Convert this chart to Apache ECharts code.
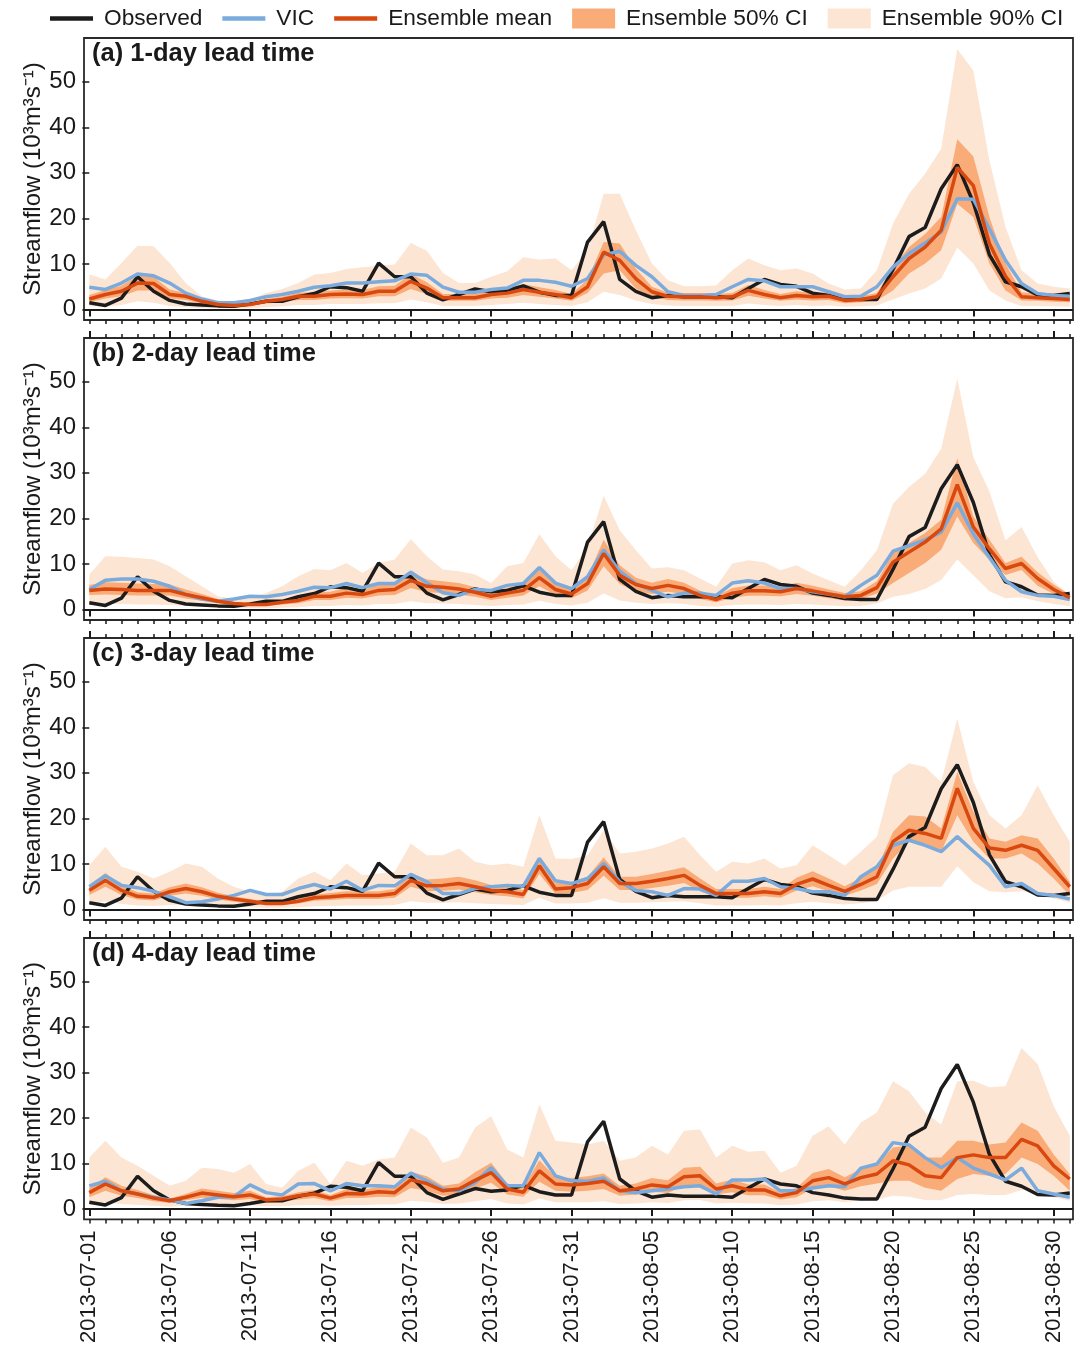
<!DOCTYPE html>
<html>
<head>
<meta charset="utf-8">
<title>Streamflow forecasts</title>
<script src="https://cdn.jsdelivr.net/npm/echarts@6/dist/echarts.min.js"></script>
<style>
    html, body { margin: 0; padding: 0; background: #fff; }
    #main { width: 1088px; height: 1346px; }
</style>
</head>
<body>
<div id="main"></div>
<script>
// tick labels on the x axis (one every 5 days, day index 0 = 2013-07-01)
var tickDays = [0, 5, 10, 15, 20, 25, 30, 35, 40, 45, 50, 55, 60];
var tickLabels = ['2013-07-01', '2013-07-06', '2013-07-11', '2013-07-16', '2013-07-21', '2013-07-26',
    '2013-07-31', '2013-08-05', '2013-08-10', '2013-08-15', '2013-08-20', '2013-08-25', '2013-08-30'];
var yTicks = [0, 10, 20, 30, 40, 50];

// observed streamflow, 2013-07-01 .. 2013-08-31 (10^3 m3/s)
var observed = [1.5, 0.9, 2.5, 7.2, 4.0, 2.0, 1.2, 1.0, 0.8, 0.7,
    1.2, 1.8, 1.8, 2.8, 3.5, 5.0, 4.8, 4.0, 10.2, 7.2,
    7.2, 3.6, 2.1, 3.3, 4.5, 3.9, 4.2, 5.2, 3.8, 3.1,
    3.1, 14.8, 19.3, 6.6, 4.0, 2.6, 3.1, 2.8, 2.8, 2.8,
    2.6, 4.6, 6.6, 5.5, 5.1, 3.6, 3.1, 2.4, 2.2, 2.2,
    8.8, 16.0, 18.0, 26.5, 31.8, 23.5, 12.0, 6.1, 5.0, 3.2, 3.1, 3.5];

// (a) 1-day lead time
var vicA = [4.9, 4.4, 5.8, 7.8, 7.4, 5.8, 3.6, 2.3, 1.5, 1.5,
    2.0, 2.8, 3.3, 4.0, 4.9, 5.2, 5.8, 5.8, 6.1, 6.3,
    7.8, 7.5, 4.9, 3.8, 3.8, 4.4, 4.7, 6.4, 6.4, 6.0,
    5.1, 6.8, 12.0, 12.8, 9.7, 7.2, 3.9, 3.1, 3.1, 3.3,
    5.0, 6.6, 6.3, 5.0, 5.0, 5.0, 3.9, 2.8, 2.9, 5.0,
    9.3, 12.3, 14.6, 17.0, 24.3, 24.2, 17.7, 10.8, 5.7, 3.5, 3.1, 2.9];
var meanA = [2.3, 3.3, 4.0, 5.8, 5.7, 3.3, 2.9, 1.8, 1.1, 0.9,
    1.1, 1.8, 2.2, 2.9, 2.9, 3.3, 3.4, 3.3, 4.0, 4.0,
    6.2, 4.7, 2.6, 2.6, 2.6, 3.3, 3.6, 4.4, 3.8, 3.3,
    2.6, 5.0, 12.6, 10.8, 6.8, 3.9, 2.9, 2.8, 2.8, 2.6,
    2.8, 4.2, 3.3, 2.6, 3.1, 2.8, 2.9, 2.0, 2.2, 2.8,
    7.2, 11.2, 13.7, 17.4, 31.2, 27.2, 14.5, 7.3, 2.8, 2.6, 2.4, 2.2];
var lo50A = [1.6, 2.4, 2.9, 4.2, 4.2, 2.4, 2.1, 1.3, 0.8, 0.6,
    0.8, 1.3, 1.6, 2.1, 2.1, 2.4, 2.5, 2.4, 2.9, 2.9,
    4.5, 3.4, 1.9, 1.9, 1.9, 2.4, 2.6, 3.2, 2.8, 2.4,
    1.9, 3.6, 7.9, 8.6, 4.6, 2.8, 2.1, 2.0, 2.0, 1.9,
    2.0, 3.0, 2.4, 1.9, 2.2, 2.0, 2.1, 1.4, 1.6, 2.0,
    4.2, 7.9, 10.1, 13.0, 23.2, 20.3, 10.1, 4.2, 2.0, 1.9, 1.7, 1.6];
var hi50A = [3.2, 4.3, 5.2, 7.4, 7.2, 4.4, 3.6, 2.3, 1.4, 1.2,
    1.4, 2.3, 2.8, 3.7, 3.8, 4.2, 4.4, 4.3, 5.1, 5.2,
    7.8, 6.0, 3.4, 3.4, 3.4, 4.2, 4.6, 5.6, 4.9, 4.3,
    3.4, 6.6, 14.8, 14.5, 9.0, 5.0, 3.7, 3.6, 3.6, 3.4,
    3.6, 5.4, 4.3, 3.4, 4.0, 3.6, 3.8, 2.6, 2.9, 3.6,
    9.3, 13.7, 16.6, 20.3, 37.4, 33.6, 20.3, 10.1, 3.8, 3.4, 3.1, 2.9];
var lo90A = [0.8, 0.6, 1.0, 1.8, 1.5, 0.8, 0.5, 0.3, 0.2, 0.2,
    0.3, 0.5, 0.7, 1.0, 1.0, 1.2, 1.2, 1.2, 1.4, 1.4,
    2.2, 1.6, 0.8, 0.8, 0.8, 1.0, 1.2, 1.5, 1.2, 1.0,
    0.8, 1.6, 3.9, 3.2, 2.0, 1.2, 0.9, 0.8, 0.8, 0.8,
    0.8, 1.3, 1.0, 0.8, 1.0, 0.8, 0.9, 0.6, 0.7, 0.9,
    2.2, 3.5, 4.6, 6.8, 13.6, 10.1, 4.2, 2.0, 0.8, 0.8, 0.7, 0.6];
var hi90A = [7.7, 6.6, 10.2, 14.0, 13.9, 10.2, 5.8, 2.9, 2.0, 1.8,
    2.2, 3.6, 4.5, 5.8, 7.7, 8.0, 8.9, 9.3, 9.6, 9.9,
    14.6, 12.9, 8.0, 5.8, 5.8, 7.2, 8.4, 11.5, 11.0, 11.2,
    8.6, 13.0, 25.4, 25.4, 17.4, 10.1, 6.4, 5.1, 5.1, 5.3,
    8.6, 11.2, 9.7, 8.6, 9.0, 7.9, 5.7, 4.4, 4.6, 8.6,
    18.8, 25.4, 29.8, 35.3, 57.2, 52.4, 32.7, 18.1, 8.6, 5.7, 5.0, 4.6];

// (b) 2-day lead time
var vicB = [4.4, 6.4, 6.7, 6.7, 6.2, 5.1, 3.3, 2.3, 1.8, 2.3,
    2.9, 2.8, 3.3, 4.0, 4.9, 4.8, 5.7, 4.8, 5.7, 5.7,
    8.2, 5.9, 3.7, 3.1, 4.4, 4.2, 5.3, 5.7, 9.2, 5.8,
    4.6, 7.2, 13.1, 8.4, 5.7, 4.2, 2.8, 3.6, 3.6, 3.1,
    5.8, 6.3, 5.8, 4.6, 4.6, 3.9, 3.4, 2.8, 5.3, 7.5,
    12.8, 14.0, 15.3, 17.0, 23.4, 16.6, 11.4, 6.4, 3.9, 3.1, 2.9, 2.2];
var meanB = [4.2, 4.5, 4.4, 4.2, 4.2, 4.2, 3.3, 2.6, 1.8, 1.3,
    1.1, 1.1, 1.6, 2.0, 2.9, 2.9, 3.6, 3.3, 4.2, 4.4,
    6.4, 5.1, 4.9, 4.5, 3.8, 2.9, 3.6, 4.2, 7.0, 4.4,
    3.4, 5.7, 12.3, 7.5, 5.5, 4.6, 5.3, 4.6, 3.1, 2.2,
    3.6, 4.1, 4.1, 3.9, 4.6, 4.1, 3.4, 2.8, 3.1, 4.8,
    10.4, 12.6, 14.8, 17.7, 27.4, 18.1, 13.3, 9.0, 10.1, 6.8, 4.4, 2.6];
var lo50B = [3.2, 3.3, 3.2, 3.1, 3.1, 3.1, 2.4, 1.9, 1.3, 0.9,
    0.8, 0.8, 1.1, 1.4, 2.1, 2.1, 2.6, 2.4, 3.1, 3.2,
    4.7, 3.8, 3.6, 3.3, 2.8, 2.1, 2.6, 3.1, 5.1, 3.2,
    2.5, 4.2, 9.5, 5.6, 4.0, 3.4, 3.9, 3.4, 2.3, 1.6,
    2.6, 3.0, 3.0, 2.9, 3.4, 3.0, 2.5, 2.0, 2.3, 3.5,
    5.8, 8.0, 10.2, 13.1, 20.4, 14.6, 10.9, 7.6, 8.7, 5.2, 3.4, 2.0];
var hi50B = [5.4, 6.0, 5.9, 5.7, 5.6, 5.5, 4.4, 3.4, 2.3, 1.7,
    1.4, 1.5, 2.1, 2.7, 3.8, 3.9, 4.8, 4.3, 5.5, 5.8,
    8.2, 6.6, 6.2, 5.8, 4.9, 3.8, 4.8, 5.5, 9.0, 5.8,
    4.4, 7.3, 15.3, 9.7, 7.0, 5.9, 6.7, 5.9, 4.1, 2.9,
    4.7, 5.3, 5.3, 5.0, 5.9, 5.2, 4.4, 3.6, 4.0, 6.2,
    12.4, 14.6, 16.8, 19.7, 33.2, 20.4, 15.3, 10.2, 11.6, 8.2, 5.5, 3.3];
var lo90B = [1.0, 1.2, 1.2, 1.1, 1.1, 1.0, 0.8, 0.6, 0.4, 0.3,
    0.3, 0.3, 0.4, 0.5, 0.8, 0.8, 1.0, 0.9, 1.2, 1.2,
    1.8, 1.4, 1.3, 1.2, 1.0, 0.8, 1.0, 1.1, 1.9, 1.2,
    0.9, 1.5, 3.5, 2.0, 1.5, 1.2, 1.4, 1.2, 0.8, 0.6,
    1.0, 1.1, 1.1, 1.0, 1.2, 1.1, 0.9, 0.7, 0.8, 1.3,
    2.8, 3.4, 4.5, 6.5, 11.0, 7.5, 4.0, 2.5, 2.7, 1.8, 1.2, 0.7];
var hi90B = [7.7, 11.7, 11.6, 11.3, 11.0, 9.5, 7.3, 5.1, 2.9, 2.3,
    2.6, 3.6, 5.1, 7.3, 8.9, 8.6, 10.2, 8.0, 10.2, 11.0,
    15.4, 11.7, 8.8, 8.4, 7.7, 5.8, 9.5, 10.2, 16.5, 11.7,
    8.6, 13.7, 25.0, 17.4, 13.0, 9.0, 9.3, 8.6, 6.8, 5.0,
    10.1, 10.8, 10.4, 8.6, 9.7, 7.9, 6.4, 5.0, 8.6, 13.0,
    23.2, 26.9, 29.8, 35.3, 50.7, 33.4, 25.9, 15.2, 18.1, 11.5, 6.1, 3.1];

// (c) 3-day lead time
var vicC = [5.0, 7.4, 5.3, 4.8, 4.0, 2.8, 1.5, 1.7, 2.3, 3.1,
    4.2, 3.3, 3.3, 4.6, 5.5, 4.5, 6.2, 4.2, 5.3, 5.2,
    7.7, 6.1, 3.5, 3.5, 4.6, 5.0, 5.3, 5.1, 11.2, 6.3,
    5.7, 6.8, 10.1, 6.1, 4.2, 3.9, 3.1, 4.6, 4.5, 3.1,
    6.2, 6.2, 6.8, 5.0, 4.6, 3.9, 3.9, 3.1, 7.2, 9.4,
    14.1, 15.2, 14.1, 12.7, 16.0, 12.8, 9.7, 5.0, 5.7, 3.5, 3.1, 2.3];
var meanC = [4.2, 6.4, 4.2, 2.9, 2.7, 3.9, 4.6, 3.9, 2.9, 2.3,
    1.8, 1.3, 1.3, 1.8, 2.6, 2.8, 3.1, 3.1, 3.1, 3.5,
    6.4, 5.2, 5.3, 5.7, 5.0, 4.2, 3.9, 3.3, 9.6, 4.5,
    4.8, 5.7, 9.4, 5.7, 5.7, 6.2, 6.8, 7.5, 5.3, 3.5,
    3.5, 3.5, 3.9, 3.5, 5.5, 6.7, 5.3, 4.0, 5.5, 7.2,
    14.9, 17.4, 16.7, 15.6, 26.6, 17.8, 13.5, 13.0, 14.1, 13.0, 9.0, 5.0];
var lo50C = [3.2, 5.0, 3.2, 2.2, 2.0, 3.0, 3.5, 3.0, 2.2, 1.7,
    1.3, 1.0, 1.0, 1.3, 1.9, 2.1, 2.3, 2.3, 2.3, 2.6,
    5.0, 4.0, 4.1, 4.4, 3.8, 3.2, 2.9, 2.4, 7.8, 3.4,
    3.6, 4.3, 7.4, 4.3, 4.3, 4.7, 5.2, 5.8, 4.0, 2.6,
    2.6, 2.6, 2.9, 2.6, 4.2, 5.1, 4.0, 3.0, 4.2, 5.6,
    11.2, 14.9, 14.5, 12.7, 20.7, 14.9, 11.2, 11.2, 12.3, 10.1, 6.8, 3.1];
var hi50C = [5.3, 8.0, 5.4, 3.8, 3.5, 4.9, 5.7, 4.9, 3.7, 2.9,
    2.3, 1.7, 1.7, 2.4, 3.3, 3.6, 4.0, 4.0, 4.0, 4.5,
    7.9, 6.6, 6.8, 7.2, 6.4, 5.4, 5.0, 4.3, 11.5, 5.8,
    6.1, 7.2, 11.4, 7.2, 7.2, 7.8, 8.5, 9.3, 6.8, 4.5,
    4.5, 4.5, 5.0, 4.5, 7.0, 8.4, 6.8, 5.1, 7.0, 9.0,
    17.0, 20.7, 20.4, 17.8, 30.2, 21.5, 15.6, 14.9, 16.3, 15.6, 11.2, 6.1];
var lo90C = [1.2, 1.8, 1.2, 0.9, 0.8, 1.0, 1.1, 1.0, 0.8, 0.6,
    0.5, 0.4, 0.4, 0.5, 0.7, 0.8, 0.9, 0.9, 0.9, 1.0,
    1.8, 1.5, 1.5, 1.6, 1.4, 1.2, 1.1, 1.0, 2.6, 1.3,
    1.3, 1.5, 2.5, 1.5, 1.5, 1.6, 1.7, 1.8, 1.4, 0.9,
    0.9, 0.9, 1.0, 0.9, 1.4, 1.7, 1.4, 1.1, 1.4, 1.9,
    4.2, 5.0, 5.0, 5.0, 9.5, 6.0, 4.0, 3.8, 4.0, 3.5, 2.5, 1.5];
var hi90C = [9.7, 13.8, 9.4, 8.3, 6.8, 8.3, 10.1, 9.4, 6.8, 5.0,
    3.9, 3.1, 3.9, 6.8, 8.3, 6.4, 10.1, 7.5, 7.9, 8.3,
    14.5, 11.9, 11.9, 13.4, 10.5, 9.7, 10.1, 9.4, 20.7, 11.2,
    11.1, 11.9, 17.4, 12.3, 12.7, 13.4, 14.5, 16.0, 11.9, 8.3,
    10.5, 10.1, 11.2, 9.0, 9.7, 14.1, 11.9, 9.6, 12.7, 16.0,
    29.5, 32.1, 31.3, 28.0, 41.9, 28.0, 20.7, 17.8, 20.7, 27.3, 20.7, 14.9];

// (d) 4-day lead time
var vicD = [5.1, 6.1, 4.0, 3.3, 2.6, 2.0, 1.2, 1.8, 2.6, 2.7,
    5.3, 3.6, 3.1, 5.5, 5.6, 4.0, 5.6, 5.1, 5.1, 4.9,
    7.9, 6.2, 4.4, 4.0, 5.8, 9.1, 5.1, 5.1, 12.4, 7.3,
    6.2, 6.1, 6.8, 4.0, 3.6, 4.0, 4.4, 4.9, 5.1, 3.3,
    6.4, 6.4, 6.6, 4.0, 4.0, 4.6, 5.1, 4.9, 9.0, 9.9,
    14.6, 14.1, 11.3, 9.1, 11.3, 9.0, 7.7, 6.4, 9.0, 4.0, 3.3, 2.6];
var meanD = [3.6, 5.5, 4.0, 3.3, 2.4, 1.8, 2.6, 3.5, 3.1, 2.7,
    3.1, 2.0, 2.2, 2.9, 3.3, 2.4, 3.4, 3.3, 3.8, 3.6,
    6.4, 5.6, 4.0, 4.4, 6.3, 8.0, 4.4, 3.7, 8.4, 5.5,
    5.3, 5.6, 6.1, 4.0, 4.4, 5.3, 4.9, 7.1, 7.3, 4.4,
    5.1, 4.2, 4.2, 2.9, 3.6, 6.2, 6.9, 5.5, 6.9, 7.7,
    10.6, 9.7, 7.3, 6.9, 11.3, 11.9, 11.3, 11.3, 15.3, 13.9, 9.5, 6.6];
var lo50D = [2.6, 4.0, 2.9, 2.4, 1.7, 1.3, 1.9, 2.5, 2.2, 1.9,
    2.2, 1.4, 1.6, 2.1, 2.4, 1.7, 2.4, 2.4, 2.7, 2.6,
    4.6, 4.0, 2.9, 3.2, 4.5, 5.8, 3.2, 2.7, 6.0, 4.0,
    3.8, 4.0, 4.4, 2.9, 3.2, 3.8, 3.5, 5.1, 5.2, 3.2,
    3.7, 3.0, 3.0, 2.1, 2.6, 4.5, 5.0, 4.0, 5.0, 5.6,
    6.2, 6.2, 4.7, 4.0, 6.6, 7.7, 7.3, 7.7, 11.3, 9.9, 7.3, 4.0];
var hi50D = [4.6, 7.0, 5.1, 4.2, 3.1, 2.3, 3.3, 4.5, 4.0, 3.5,
    4.0, 2.6, 2.8, 3.7, 4.2, 3.1, 4.4, 4.2, 4.9, 4.6,
    8.2, 7.2, 5.1, 5.6, 8.1, 10.2, 5.6, 4.7, 10.7, 7.0,
    6.8, 7.2, 7.8, 5.1, 5.6, 6.8, 6.3, 9.1, 9.3, 5.6,
    6.5, 5.4, 5.4, 3.7, 4.6, 7.9, 8.8, 7.0, 8.8, 9.9,
    13.5, 13.9, 11.3, 11.3, 15.0, 15.0, 14.2, 14.6, 19.0, 17.2, 12.0, 7.7];
var lo90D = [1.0, 1.5, 1.1, 0.9, 0.7, 0.5, 0.7, 1.0, 0.9, 0.8,
    0.9, 0.6, 0.6, 0.8, 0.9, 0.7, 0.9, 0.9, 1.0, 1.0,
    1.8, 1.6, 1.1, 1.2, 1.7, 2.2, 1.2, 1.0, 2.3, 1.5,
    1.5, 1.5, 1.7, 1.1, 1.2, 1.5, 1.3, 1.9, 2.0, 1.2,
    1.4, 1.2, 1.2, 0.8, 1.0, 1.7, 1.9, 1.5, 1.9, 2.1,
    2.9, 2.7, 2.0, 1.9, 3.1, 3.3, 3.1, 3.1, 4.2, 3.8, 2.6, 1.8];
var hi90D = [11.3, 15.0, 11.3, 9.5, 7.3, 5.1, 6.2, 9.1, 8.8, 8.0,
    9.9, 5.5, 4.7, 8.4, 10.2, 5.5, 10.6, 9.5, 10.9, 11.3,
    17.9, 15.7, 10.2, 11.3, 17.9, 20.4, 13.1, 11.3, 23.0, 15.0,
    14.6, 14.2, 15.0, 10.6, 11.3, 13.9, 12.0, 17.2, 17.5, 11.3,
    13.9, 12.6, 12.8, 8.0, 9.5, 16.1, 18.2, 14.2, 19.0, 21.2,
    28.1, 25.9, 21.2, 18.6, 28.1, 28.2, 26.8, 27.0, 35.4, 31.9, 22.6, 16.1];

var panels = [
    {title: '(a) 1-day lead time', vic: vicA, mean: meanA, lo50: lo50A, hi50: hi50A, lo90: lo90A, hi90: hi90A},
    {title: '(b) 2-day lead time', vic: vicB, mean: meanB, lo50: lo50B, hi50: hi50B, lo90: lo90B, hi90: hi90B},
    {title: '(c) 3-day lead time', vic: vicC, mean: meanC, lo50: lo50C, hi50: hi50C, lo90: lo90C, hi90: hi90C},
    {title: '(d) 4-day lead time', vic: vicD, mean: meanD, lo50: lo50D, hi50: hi50D, lo90: lo90D, hi90: hi90D}
];

(function () {
    var myChart = echarts.init(document.getElementById('main'), null, {renderer: 'canvas'});
    var font = 'Liberation Sans, Arial, Helvetica, sans-serif';
    var ink = '#1a1a1a';
    var colObs = '#1c1c1c', colVic = '#7aabdc', colMean = '#d9480f';
    var col50 = '#f9ab78', col90 = '#fde5d3';
    var xMin = -0.33, xMax = 61.2;
    var nDays = observed.length;
    var allDays = [];
    for (var d = 0; d < nDays; d++) allDays.push(d);

    function pairs(arr) {
        return arr.map(function (v, i) { return [i, v]; });
    }
    // band polygon: upper bound left->right, then lower bound right->left
    function bandItem(lo, hi, color) {
        return function (params, api) {
            if (params.dataIndex !== 0) return;
            var pts = [];
            for (var i = 0; i < hi.length; i++) pts.push(api.coord([i, hi[i]]));
            for (var j = lo.length - 1; j >= 0; j--) pts.push(api.coord([j, lo[j]]));
            return {type: 'polygon', shape: {points: pts}, style: {fill: color}};
        };
    }
    function tickAxis(k, pos, values, len, width, labels) {
        return {
            type: 'value', gridIndex: k, position: pos, min: xMin, max: xMax,
            axisLine: {show: false},
            splitLine: {show: false},
            axisTick: {show: true, customValues: values, length: len, lineStyle: {color: ink, width: width}},
            axisLabel: labels ? {
                show: true, customValues: tickDays, rotate: 90, margin: 11,
                fontSize: 22, color: ink, fontFamily: font,
                formatter: function (v) { return tickLabels[tickDays.indexOf(Math.round(v))] || ''; }
            } : {show: false}
        };
    }

    var grids = [], xAxes = [], yAxes = [], titles = [], series = [];
    panels.forEach(function (p, k) {
        var top = 38 + 300 * k;
        grids.push({left: 84, right: 15, top: top, height: 282, show: true,
            borderColor: '#2a2a2a', borderWidth: 1.8, backgroundColor: 'transparent'});
        var xi = xAxes.length;
        xAxes.push(tickAxis(k, 'bottom', tickDays, 7, 2, k === 3));
        xAxes.push(tickAxis(k, 'bottom', allDays, 4, 1.5, false));
        if (k > 0) {
            xAxes.push(tickAxis(k, 'top', tickDays, 7, 2, false));
            xAxes.push(tickAxis(k, 'top', allDays, 4, 1.5, false));
        }
        yAxes.push({
            type: 'value', gridIndex: k, min: -2.3, max: 59.6,
            axisLine: {show: false},
            splitLine: {show: false},
            axisTick: {show: true, customValues: yTicks, length: 7, lineStyle: {color: ink, width: 1.5}},
            axisLabel: {customValues: yTicks, fontSize: 24, color: ink, margin: 8, fontFamily: font},
            name: 'Streamflow (10\u00b3m\u00b3s\u207b\u00b9)',
            nameLocation: 'middle', nameGap: 39, nameMoveOverlap: false,
            nameTextStyle: {fontSize: 24, color: ink, fontFamily: font}
        });
        titles.push({text: p.title, left: 92, top: top + 3, padding: 0,
            textStyle: {fontSize: 25.5, fontWeight: 'bold', color: ink, fontFamily: font}});

        var common = {xAxisIndex: xi, yAxisIndex: k, silent: true, animation: false};
        series.push(Object.assign({}, common, {type: 'custom', name: 'Ensemble 90% CI',
            itemStyle: {color: col90}, encode: {x: 0, y: [1, 2]},
            data: allDays.map(function (i) { return [i, p.lo90[i], p.hi90[i]]; }),
            renderItem: bandItem(p.lo90, p.hi90, col90)}));
        series.push(Object.assign({}, common, {type: 'custom', name: 'Ensemble 50% CI',
            itemStyle: {color: col50}, encode: {x: 0, y: [1, 2]},
            data: allDays.map(function (i) { return [i, p.lo50[i], p.hi50[i]]; }),
            renderItem: bandItem(p.lo50, p.hi50, col50)}));

        var line = Object.assign({}, common, {type: 'line', symbol: 'none', showSymbol: false});
        series.push(Object.assign({}, line, {name: 'Observed', data: pairs(observed),
            itemStyle: {color: colObs}, lineStyle: {color: colObs, width: 3.5},
            markLine: {silent: true, symbol: 'none', label: {show: false}, animation: false,
                lineStyle: {color: ink, width: 2, type: 'solid'}, data: [{yAxis: 0}]}}));
        series.push(Object.assign({}, line, {name: 'VIC', data: pairs(p.vic),
            itemStyle: {color: colVic}, lineStyle: {color: colVic, width: 3.5}}));
        series.push(Object.assign({}, line, {name: 'Ensemble mean', data: pairs(p.mean),
            itemStyle: {color: colMean}, lineStyle: {color: colMean, width: 3.5}}));
    });

    var lineIcon = 'path://M0,0 L100,0 L100,10 L0,10 Z';
    var option = {
        animation: false,
        backgroundColor: '#fff',
        textStyle: {fontFamily: font},
        title: titles,
        legend: {
            left: 50, top: 7, padding: 0,
            itemWidth: 43, itemHeight: 20, itemGap: 20,
            symbolKeepAspect: true,
            textStyle: {fontSize: 22.7, color: ink, fontFamily: font, padding: [0, 0, 0, 6]},
            data: [
                {name: 'Observed', icon: lineIcon, itemStyle: {color: colObs}},
                {name: 'VIC', icon: lineIcon, itemStyle: {color: colVic}},
                {name: 'Ensemble mean', icon: lineIcon, itemStyle: {color: colMean}},
                {name: 'Ensemble 50% CI', icon: 'rect', itemStyle: {color: col50, borderWidth: 0}},
                {name: 'Ensemble 90% CI', icon: 'rect', itemStyle: {color: col90, borderWidth: 0}}
            ]
        },
        grid: grids,
        xAxis: xAxes,
        yAxis: yAxes,
        series: series
    };
    myChart.setOption(option);
    window.addEventListener('resize', function () {
        myChart.resize();
    });
})();
</script>
</body>
</html>
